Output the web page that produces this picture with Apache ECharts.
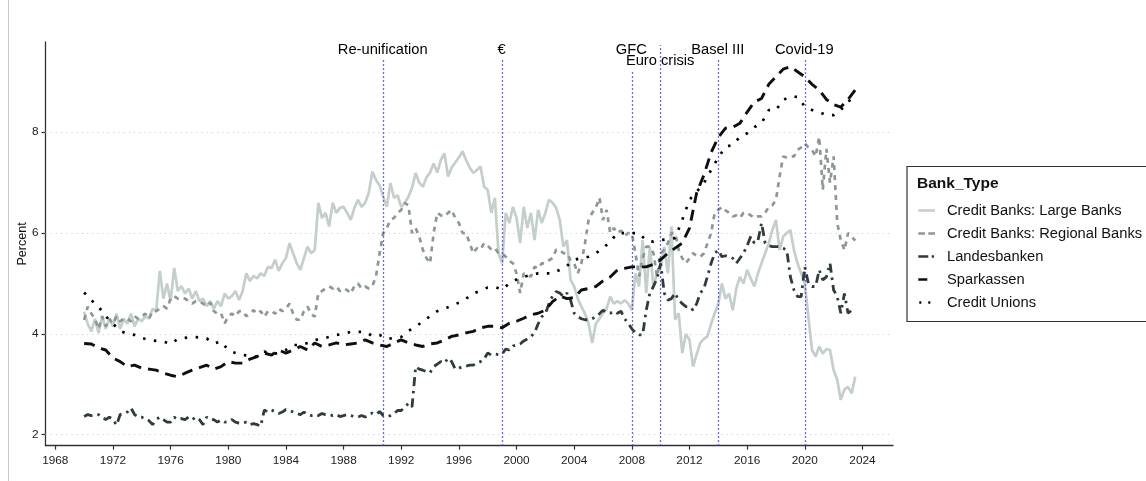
<!DOCTYPE html>
<html>
<head>
<meta charset="utf-8">
<title>Bank types</title>
<script src="https://cdn.jsdelivr.net/npm/echarts@6/dist/echarts.min.js"></script>
<style>
  html, body { margin: 0; padding: 0; background: #ffffff; }
  #chart { width: 1146px; height: 481px; }
</style>
</head>
<body>
<div id="chart"></div>
<script>
// Quarterly series, first value = 1970 Q1
const QUARTER_START = 1970;
const largeBanks = [
  4.44,4.2,4.05,4.3, 4.02,4.35,4.1,4.3, 4.15,4.4,4.1,4.3, 4.2,4.4,4.15,4.3,
  4.25,4.35,4.3,4.5, 4.45,5.25,4.7,5.0, 4.65,5.31,4.85,4.95, 4.8,4.9,4.7,4.85,
  4.65,4.7,4.55,4.65, 4.5,4.65,4.55,4.8, 4.7,4.75,4.85,4.67, 4.85,5.2,5.05,5.15,
  5.1,5.2,5.15,5.33, 5.3,5.47,5.25,5.4, 5.5,5.8,5.6,5.4, 5.27,5.5,5.73,5.6,
  5.66,6.6,6.3,6.4, 6.13,6.6,6.4,6.5, 6.52,6.4,6.26,6.5, 6.66,6.52,6.6,6.8,
  7.22,7.05,6.95,6.72, 6.52,6.99,6.7,6.75, 6.52,6.6,6.72,6.9, 7.19,7.0,6.92,7.1,
  7.2,7.38,7.2,7.45, 7.58,7.12,7.3,7.4, 7.5,7.62,7.45,7.3, 7.19,7.25,7.32,6.92,
  6.86,6.4,6.7,5.6, 5.4,6.4,6.2,6.52, 6.3,5.8,6.52,6.1, 6.4,5.86,6.46,6.2,
  6.4,6.66,6.6,6.5, 6.26,5.73,5.86,5.07, 4.94,4.7,4.54,4.4, 4.2,3.82,4.2,4.3,
  4.41,4.5,4.74,4.6, 4.65,4.6,4.67,4.6, 4.47,5.2,4.94,5.86, 4.81,5.73,4.94,5.2,
  5.33,5.73,5.2,6.13, 4.28,4.41,3.62,4.0, 3.88,3.35,3.6,3.82, 3.9,3.95,4.2,4.41,
  4.6,5.0,4.7,4.8, 4.47,4.9,5.13,5.0, 5.27,5.1,4.94,5.2, 5.4,5.6,5.8,6.06,
  6.26,5.66,5.93,6.0, 6.06,5.66,5.4,5.2, 5.0,4.34,3.68,3.55, 3.75,3.61,3.7,3.68,
  3.28,3.09,2.69,2.9, 2.95,2.82,3.15
];
const regionalBanks = [
  4.28,4.54,4.4,4.3, 4.1,4.35,4.15,4.3, 4.2,4.35,4.25,4.3, 4.3,4.25,4.35,4.3,
  4.35,4.4,4.3,4.45, 4.45,4.5,4.55,4.5, 4.7,4.75,4.7,4.72, 4.7,4.65,4.6,4.65,
  4.65,4.6,4.55,4.62, 4.45,4.4,4.41,4.21, 4.35,4.4,4.35,4.45, 4.45,4.35,4.4,4.47,
  4.4,4.45,4.34,4.45, 4.45,4.4,4.5,4.45, 4.5,4.6,4.4,4.28, 4.28,4.45,4.54,4.4,
  4.34,4.81,4.85,4.9, 4.94,4.9,4.94,4.85, 4.9,4.87,4.8,4.95, 5.0,4.9,4.94,4.9,
  4.95,5.14,5.6,6.0, 6.1,6.26,6.3,6.4, 6.46,6.6,6.55,6.0, 6.1,5.93,5.67,5.5,
  5.4,6.0,6.4,6.35, 6.33,6.4,6.46,6.3, 6.2,6.0,6.0,5.8, 5.6,5.7,5.67,5.8,
  5.75,5.67,5.7,5.6, 5.6,5.53,5.45,5.4, 5.2,4.81,5.2,5.15, 5.14,5.33,5.3,5.4,
  5.4,5.46,5.5,5.67, 5.67,5.6,5.6,5.46, 5.4,5.2,5.4,5.8, 6.26,6.4,6.5,6.7,
  6.26,6.46,6.0,6.1, 6.0,6.05,5.95,6.0, 6.0,5.6,5.14,5.5, 5.73,5.73,5.6,5.14,
  5.6,5.67,5.8,6.0, 6.0,5.67,5.5,5.4, 5.5,5.6,5.55,5.53, 5.6,5.8,6.0,6.4,
  6.46,6.52,6.45,6.4, 6.33,6.35,6.3,6.4, 6.4,6.35,6.3,6.33, 6.33,6.4,6.52,6.55,
  6.66,7.12,7.52,7.5, 7.52,7.52,7.65,7.7, 7.78,7.7,7.65,7.52, 7.91,6.86,7.67,7.0,
  7.52,6.2,5.86,5.66, 6.0,5.93,5.85
];
const landesbanken = [
  2.36,2.4,2.38,2.4, 2.4,2.35,2.3,2.35, 2.3,2.19,2.4,2.42, 2.45,2.53,2.4,2.35,
  2.35,2.3,2.28,2.2, 2.3,2.35,2.3,2.25, 2.25,2.35,2.3,2.32, 2.3,2.35,2.3,2.35,
  2.3,2.2,2.35,2.3, 2.3,2.25,2.29,2.25, 2.26,2.3,2.25,2.23, 2.23,2.25,2.2,2.22,
  2.2,2.17,2.49,2.45, 2.49,2.45,2.42,2.45, 2.5,2.48,2.45,2.42, 2.4,2.45,2.4,2.38,
  2.4,2.38,2.42,2.4, 2.4,2.38,2.4,2.36, 2.38,2.4,2.38,2.36, 2.35,2.38,2.35,2.4,
  2.43,2.4,2.46,2.38, 2.36,2.38,2.42,2.48, 2.48,2.55,2.62,2.55, 3.35,3.3,3.28,3.25,
  3.23,3.35,3.4,3.45, 3.42,3.52,3.45,3.3, 3.32,3.35,3.36,3.38, 3.38,3.42,3.45,3.5,
  3.62,3.58,3.6,3.59, 3.6,3.7,3.68,3.76, 3.78,3.8,3.86,3.9, 3.95,4.02,4.2,4.34,
  4.4,4.6,4.75,4.84, 4.81,4.74,4.81,4.67, 4.41,4.34,4.3,4.28, 4.28,4.3,4.34,4.4,
  4.47,4.42,4.41,4.45, 4.41,4.45,4.3,4.21, 4.1,4.02,3.98,3.98, 4.47,4.81,4.94,5.1,
  5.4,4.81,4.67,4.7, 4.81,4.67,4.6,4.54, 4.54,4.47,4.6,4.81, 4.9,5.14,5.4,5.6,
  5.66,5.53,5.55,5.53, 5.5,5.4,5.5,5.6, 5.75,5.93,5.8,5.85, 6.2,5.8,5.75,5.73,
  5.73,5.73,5.7,5.66, 5.13,4.87,4.74,4.74, 5.33,5.0,4.94,4.94, 5.27,5.07,5.13,5.4,
  4.87,4.74,4.41,4.8, 4.41,4.47,4.5
];
// Half-yearly series, first value = 1970 H1
const HALF_START = 1970;
const sparkassen = [
  3.81,3.8, 3.72,3.68, 3.52,3.45, 3.35,3.38, 3.32,3.3, 3.28,3.22, 3.18,3.15, 3.22,3.28,
  3.33,3.38, 3.3,3.35, 3.45,3.42, 3.42,3.5, 3.55,3.62, 3.58,3.68, 3.62,3.68, 3.75,3.68,
  3.82,3.75, 3.78,3.82, 3.78,3.8, 3.82,3.88, 3.82,3.78, 3.75,3.82, 3.88,3.82, 3.78,3.75,
  3.8,3.82, 3.88,3.95, 3.98,4.02, 4.05,4.12, 4.15,4.15, 4.12,4.21, 4.25,4.31, 4.38,4.41,
  4.47,4.64, 4.75,4.7, 4.72,4.87, 4.9,4.94, 5.05,5.13, 5.27,5.3, 5.33,5.33, 5.33,5.38,
  5.47,5.6, 5.7,5.8, 6.1,6.8, 7.15,7.6, 7.9,8.08, 8.1,8.18, 8.4,8.6, 8.67,8.95,
  9.1,9.25, 9.3,9.2, 9.1,8.95, 8.84,8.65, 8.55,8.5, 8.65,8.84
];
const creditUnions = [
  4.82,4.67, 4.54,4.35, 4.2,4.06, 4.0,3.98, 3.92,3.88, 3.86,3.85, 3.8,3.9, 3.92,3.94,
  3.93,3.91, 3.81,3.85, 3.68,3.62, 3.58,3.57, 3.55,3.65, 3.6,3.62, 3.68,3.78, 3.78,3.82,
  3.88,3.9, 3.94,3.98, 4.0,4.04, 4.04,4.04, 3.96,3.98, 3.9,3.92, 3.94,4.06, 4.14,4.25,
  4.35,4.45, 4.5,4.56, 4.62,4.7, 4.8,4.86, 4.92,4.93, 4.88,5.0, 5.08,5.13, 5.17,5.2,
  5.2,5.2, 5.27,5.35, 5.47,5.5, 5.53,5.6, 5.7,5.83, 6.0,6.0, 6.0,6.0, 5.85,5.83,
  5.86,5.88, 5.9,6.26, 6.66,6.82, 6.99,7.25, 7.5,7.71, 7.75,7.91, 7.98,8.1, 8.18,8.44,
  8.44,8.64, 8.71,8.7, 8.51,8.44, 8.4,8.34, 8.34,8.44, 8.61,8.7
];

const seriesNames = [
  'Credit Banks: Large Banks',
  'Credit Banks: Regional Banks',
  'Landesbanken',
  'Sparkassen',
  'Credit Unions'
];

// Event markers
const eventNames = ['Re-unification', '€', 'GFC', 'Euro crisis', 'Basel III', 'Covid-19'];
const eventDates = [1990.75, 1999.0, 2008.0, 2010.0, 2014.0, 2020.0];
const eventLabelLevels = [9.62, 9.62, 9.62, 9.40, 9.62, 9.62];
const eventLineTops = [9.47, 9.47, 9.24, 9.73, 9.47, 9.47];

// Axis ticks
const xTicks = [1968, 1972, 1976, 1980, 1984, 1988, 1992, 1996, 2000, 2004, 2008, 2012, 2016, 2020, 2024];
const yTicks = [2, 4, 6, 8];

const X_MIN = 1967.32, X_MAX = 2026.12;
const Y_MIN = 1.782, Y_MAX = 9.79;

const FONT = "'Liberation Sans', Arial, Helvetica, sans-serif";

function withDates(values, start, step) {
  return values.map((v, i) => [start + i * step, v]);
}

const styles = [
  { color: '#c4cecb', type: 'solid', width: 2.7 },
  { color: '#8c9896', type: [5, 5], width: 2.7 },
  { color: '#2e3c3c', type: [9, 5, 2.5, 5], width: 2.8 },
  { color: '#0f0f0f', type: [11, 7], width: 2.9 },
  { color: '#000000', type: [2.5, 8.5], width: 2.7 }
];

const dataSets = [
  withDates(largeBanks, QUARTER_START, 0.25),
  withDates(regionalBanks, QUARTER_START, 0.25),
  withDates(landesbanken, QUARTER_START, 0.25),
  withDates(sparkassen, HALF_START, 0.5),
  withDates(creditUnions, HALF_START, 0.5)
];

// Legend key glyphs (25 x 3 box; tiny corner squares fix the box size)
const box = 'M0,0h0.01v0.01h-0.01Z M24.99,2.99h0.01v0.01h-0.01Z ';
const legendIcons = [
  'path://' + box + 'M1.3,0.3H18V2.7H1.3Z',
  'path://' + box + 'M1.3,0.3H8V2.7H1.3Z M11.3,0.3H18V2.7H11.3Z',
  'path://' + box + 'M1.3,0.3H11.3V2.7H1.3Z M14.7,0.3H17V2.7H14.7Z',
  'path://' + box + 'M1.3,0.3H10.3V2.7H1.3Z',
  'path://' + box + 'M2.3,0.3H4.3V2.7H2.3Z M11.3,0.3H13.3V2.7H11.3Z'
];

const dataSeries = seriesNames.map((name, i) => ({
  name: name,
  type: 'line',
  data: dataSets[i],
  symbol: 'none',
  smooth: false,
  color: styles[i].color,
  lineStyle: { color: styles[i].color, width: styles[i].width, type: styles[i].type, cap: 'butt' },
  emphasis: { disabled: true },
  z: 3 + i
}));

const chart = echarts.init(document.getElementById('chart'), null, { renderer: 'canvas' });

chart.setOption({
  animation: false,
  backgroundColor: '#ffffff',
  textStyle: { fontFamily: FONT },
  grid: { left: 45.5, right: 253, top: 42, bottom: 35.3, containLabel: false },
  title: {
    text: 'Bank_Type',
    left: 917,
    top: 175.5,
    padding: 0,
    textStyle: { fontFamily: FONT, fontSize: 15.5, fontWeight: 'bold', color: '#111111' }
  },
  legend: {
    orient: 'vertical',
    left: 907,
    top: 166.5,
    padding: [35.5, 30, 10.5, 10],
    itemWidth: 25,
    itemHeight: 17,
    itemGap: 6,
    selectedMode: false,
    borderColor: '#333333',
    borderWidth: 1.2,
    borderRadius: 0,
    itemStyle: { borderWidth: 0 },
    textStyle: { fontFamily: FONT, fontSize: 14.7, color: '#111111', lineHeight: 17 },
    data: seriesNames.map((n, i) => ({ name: n, icon: legendIcons[i] }))
  },
  xAxis: {
    type: 'value',
    min: X_MIN,
    max: X_MAX,
    splitLine: { show: false },
    axisLine: { show: true, onZero: false, lineStyle: { color: '#333333', width: 1.3 } },
    axisTick: { show: true, length: 4, customValues: xTicks, lineStyle: { color: '#333333', width: 1.2 } },
    axisLabel: {
      customValues: xTicks,
      margin: 9,
      fontFamily: FONT,
      fontSize: 11.8,
      color: '#222222',
      formatter: v => String(Math.round(v))
    }
  },
  yAxis: {
    type: 'value',
    min: Y_MIN,
    max: Y_MAX,
    name: 'Percent',
    nameLocation: 'middle',
    nameGap: 16,
    nameMoveOverlap: false,
    nameTextStyle: { fontFamily: FONT, fontSize: 12.6, color: '#111111' },
    splitLine: { show: false },
    axisLine: { show: true, onZero: false, lineStyle: { color: '#333333', width: 1.3 } },
    axisTick: { show: true, length: 4, customValues: yTicks, lineStyle: { color: '#333333', width: 1.2 } },
    axisLabel: {
      customValues: yTicks,
      margin: 7,
      fontFamily: FONT,
      fontSize: 11.8,
      color: '#222222',
      formatter: v => String(Math.round(v))
    }
  },
  series: [
    // horizontal reference lines at the y ticks
    {
      name: 'grid',
      type: 'line',
      data: [],
      silent: true,
      z: 1,
      markLine: {
        silent: true,
        symbol: 'none',
        animation: false,
        label: { show: false },
        lineStyle: { color: '#cfcfcf', width: 1.2, type: [1.2, 4] },
        data: yTicks.map(v => ({ yAxis: v }))
      }
    },
    ...dataSeries,
    // event lines
    {
      name: 'events',
      type: 'line',
      data: [],
      silent: true,
      z: 10,
      markLine: {
        silent: true,
        symbol: 'none',
        animation: false,
        label: { show: false },
        lineStyle: { color: '#3b3bd4', width: 1.3, type: [1.5, 2.5] },
        data: eventDates.map((d, i) => [
          { coord: [d, Y_MIN] },
          { coord: [d, eventLineTops[i]] }
        ])
      }
    },
    // event labels
    {
      name: 'eventLabels',
      type: 'scatter',
      silent: true,
      symbolSize: 1,
      itemStyle: { color: 'rgba(0,0,0,0)' },
      z: 11,
      data: eventDates.map((d, i) => [d, eventLabelLevels[i], eventNames[i]]),
      label: {
        show: true,
        position: [0, 0],
        align: 'center',
        verticalAlign: 'middle',
        formatter: p => p.data[2],
        fontFamily: FONT,
        fontSize: 14.7,
        color: '#000000',
        textBorderWidth: 0,
        opacity: 1
      }
    }
  ],
  graphic: [
    {
      type: 'line',
      shape: { x1: 8.5, y1: 0, x2: 8.5, y2: 481 },
      style: { stroke: '#c8c8c8', lineWidth: 1 },
      silent: true
    }
  ]
});
</script>
</body>
</html>
